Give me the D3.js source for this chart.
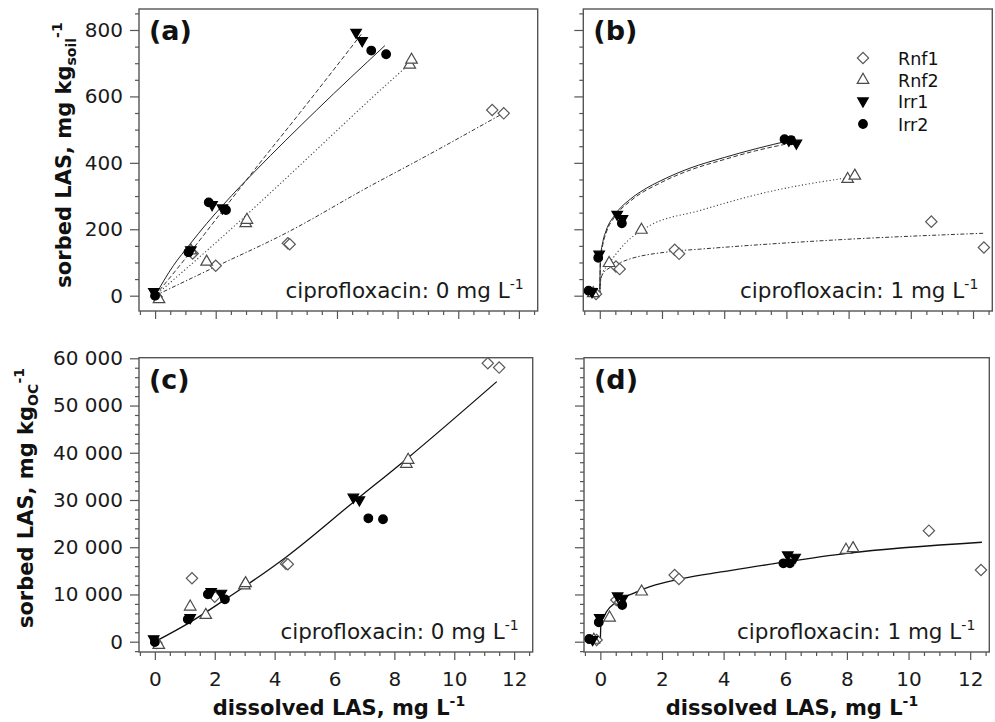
<!DOCTYPE html>
<html><head><meta charset="utf-8">
<script src="https://cdn.jsdelivr.net/npm/d3@7"></script>
<style>
body{margin:0;background:#fff}
svg{display:block}
text{font-family:"DejaVu Sans",sans-serif}
</style></head>
<body><svg id="chart" width="995" height="722"></svg>
<script>
// ---------- tick values / labels ----------
const xTickValues = [0, 2, 4, 6, 8, 10, 12];
const xTickLabels = ["0", "2", "4", "6", "8", "10", "12"];
const ySoilTickValues = [0, 200, 400, 600, 800];
const ySoilTickLabels = ["0", "200", "400", "600", "800"];
const yOCTickValues = [0, 10000, 20000, 30000, 40000, 50000, 60000];
const yOCTickLabels = ["0", "10 000", "20 000", "30 000", "40 000", "50 000", "60 000"];

const seriesNames = ["Rnf1", "Rnf2", "Irr1", "Irr2"];

// ---------- panel (a): ciprofloxacin 0, mg/kg soil ----------
const aRnf1 = [[0.05,-3],[1.24,127],[2.0,90],[4.38,158],[4.44,155],[11.12,559],[11.5,549]];
const aRnf2 = [[0.13,-11],[1.18,136],[1.7,102],[2.99,218],[3.03,228],[8.4,695],[8.46,710]];
const aIrr1 = [[-0.04,12],[1.18,138],[1.88,274],[2.22,264],[6.63,793],[6.83,768]];
const aIrr2 = [[0,0],[1.1,131],[1.77,281],[2.34,258],[7.13,738],[7.62,727]];
const aFitRnf1 = [[0,0],[1.92,84],[4.35,190],[7.09,330],[8.73,410],[11.5,550]];
const aFitRnf2 = [[0,0],[2.8,225],[4.02,328],[8.3,690],[8.45,702]];
const aFitIrr1 = [[0,0],[1.0,112],[2.0,229],[3.13,362],[4.78,551],[6.8,787]];
const aFitIrr2 = [[0,0],[0.6,90],[1.15,155],[1.7,217],[2.25,274],[2.8,328],[3.3,375],[5.33,559],[7.58,753]];

// ---------- panel (b): ciprofloxacin 1, mg/kg soil ----------
const bRnf1 = [[-0.12,5],[0.52,88],[0.64,80],[2.41,138],[2.55,126],[10.66,223],[12.35,145]];
const bRnf2 = [[-0.21,7],[0.3,98],[1.34,198],[7.97,351],[8.2,361]];
const bIrr1 = [[-0.25,12],[-0.02,125],[0.56,245],[0.73,232],[6.08,468],[6.32,459]];
const bIrr2 = [[-0.36,15],[-0.05,114],[0.71,218],[5.94,471],[6.15,468]];
const bFitRnf1 = [[0,0],[0.02,45],[0.1,66],[0.3,83],[0.72,102],[2.29,133],[3.2,140],[7.6,168],[12.35,188]];
const bFitRnf2 = [[0,0],[0.02,38],[0.1,70],[0.26,92],[0.82,158],[1.55,208],[3.2,256],[5.3,310],[7.9,354],[8.2,358]];
const bFitIrr1 = [[0,0],[0.02,100],[0.1,155],[0.2,188],[0.5,240],[1.0,286],[2.0,342],[2.9,378],[4.0,410],[5.0,436],[6.3,462]];
const bFitIrr2 = [[0,0],[0.02,110],[0.1,163],[0.2,195],[0.5,245],[1.0,292],[1.4,318],[2.0,348],[2.9,384],[4.0,416],[5.0,442],[6.15,468]];

// ---------- panel (c): ciprofloxacin 0, mg/kg OC ----------
const cRnf1 = [[0.05,-300],[1.24,13420],[2.0,9530],[4.38,16520],[4.44,16400],[11.12,58960],[11.5,58030]];
const cRnf2 = [[0.13,-700],[1.18,7410],[1.7,5650],[2.99,11900],[3.03,12370],[8.4,37630],[8.46,38480]];
const cIrr1 = [[-0.04,600],[1.18,5100],[1.88,10590],[2.22,10250],[6.63,30580],[6.83,30010]];
const cIrr2 = [[0,-60],[1.1,4740],[1.77,10030],[2.34,8970],[7.13,26130],[7.62,25920]];
const cFit = [[0,0],[1.17,4100],[2.34,8900],[3.07,12000],[4.4,18000],[6.66,29700],[8.41,38700],[11.42,55060]];

// ---------- panel (d): ciprofloxacin 1, mg/kg OC ----------
const dRnf1 = [[-0.12,360],[0.52,8830],[0.64,8400],[2.41,14120],[2.55,13280],[10.66,23510],[12.35,15180]];
const dRnf2 = [[-0.21,380],[0.3,5080],[1.34,10590],[7.97,19420],[8.2,19780]];
const dIrr1 = [[-0.25,460],[-0.02,5080],[0.56,9680],[0.73,9190],[6.08,18360],[6.32,17870]];
const dIrr2 = [[-0.36,570],[-0.05,4100],[0.71,7770],[5.94,16600],[6.15,16600]];
const dFit = [[0,0],[0.02,3900],[0.1,5100],[0.2,6350],[0.53,8500],[1.07,10250],[1.61,11650],[2.69,13420],[3.99,14820],[6.05,16940],[8.0,18700],[12.38,21050]];

// ---------- styling ----------
const markerStyle = {
  Rnf1: {shape: "diamond", fill: "#fff", stroke: "#5a5a5a"},
  Rnf2: {shape: "up", fill: "#fff", stroke: "#4a4a4a"},
  Irr1: {shape: "down", fill: "#000", stroke: "#000"},
  Irr2: {shape: "circle", fill: "#000", stroke: "#000"}
};
const lineStyle = {
  Rnf1: {dash: "4,2,1.4,2", stroke: "#333", width: 1},
  Rnf2: {dash: "1.2,2.3", stroke: "#444", width: 1.1},
  Irr1: {dash: "4.5,2.5", stroke: "#333", width: 1},
  Irr2: {dash: null, stroke: "#222", width: 1},
  single: {dash: null, stroke: "#111", width: 1.3}
};

const svg = d3.select("#chart");
svg.append("rect").attr("width", 995).attr("height", 722).attr("fill", "#fff");

function symbolPath(shape) {
  if (shape === "diamond") return d3.symbol(d3.symbolSquare, 64)();
  if (shape === "up") return d3.symbol(d3.symbolTriangle, 58)();
  if (shape === "down") return d3.symbol(d3.symbolTriangle, 48)();
  return d3.symbol(d3.symbolCircle, 58)();
}
function symbolRot(shape) {
  if (shape === "diamond") return 45;
  if (shape === "down") return 180;
  return 0;
}

const xDomain = [-0.53, 12.62];
const soilDomain = [-46.1, 863.2];
const ocDomain = [-2181, 60127];

const panels = [
  {label: "(a)", box: [139, 537.7, 9, 311], yDomain: soilDomain, yTicks: ySoilTickValues, yLabels: ySoilTickLabels,
   yMinor: d3.range(0, 851, 50), showY: true, showX: false, cipro: "0",
   series: {Rnf1: aRnf1, Rnf2: aRnf2, Irr1: aIrr1, Irr2: aIrr2},
   fits: [["Rnf1", aFitRnf1], ["Rnf2", aFitRnf2], ["Irr1", aFitIrr1], ["Irr2", aFitIrr2]]},
  {label: "(b)", box: [583.3, 992.3, 9, 311], yDomain: soilDomain, yTicks: ySoilTickValues, yLabels: ySoilTickLabels,
   yMinor: d3.range(0, 851, 50), showY: false, showX: false, cipro: "1",
   series: {Rnf1: bRnf1, Rnf2: bRnf2, Irr1: bIrr1, Irr2: bIrr2},
   fits: [["Rnf1", bFitRnf1], ["Rnf2", bFitRnf2], ["Irr1", bFitIrr1], ["Irr2", bFitIrr2]], legend: true},
  {label: "(c)", box: [139, 532.7, 357.7, 652], yDomain: ocDomain, yTicks: yOCTickValues, yLabels: yOCTickLabels,
   yMinor: d3.range(-2000, 60001, 2000), showY: true, showX: true, cipro: "0",
   series: {Rnf1: cRnf1, Rnf2: cRnf2, Irr1: cIrr1, Irr2: cIrr2},
   fits: [["single", cFit]]},
  {label: "(d)", box: [584, 989.3, 357.7, 652], yDomain: ocDomain, yTicks: yOCTickValues, yLabels: yOCTickLabels,
   yMinor: d3.range(-2000, 60001, 2000), showY: false, showX: true, cipro: "1",
   series: {Rnf1: dRnf1, Rnf2: dRnf2, Irr1: dIrr1, Irr2: dIrr2},
   fits: [["single", dFit]]}
];

const axisColor = "#555";
const tickFont = 20;

panels.forEach(p => {
  const [L, R, T, B] = p.box;
  const x = d3.scaleLinear().domain(xDomain).range([L, R]);
  const y = d3.scaleLinear().domain(p.yDomain).range([B, T]);
  const g = svg.append("g");

  const cid = "clip" + p.label.replace(/[()]/g, "");
  svg.append("clipPath").attr("id", cid).append("rect")
    .attr("x", L).attr("y", T).attr("width", R - L).attr("height", B - T);

  const yMaj = g.append("g").attr("transform", `translate(${L},0)`)
    .call(d3.axisLeft(y).tickValues(p.yTicks).tickSize(9).tickPadding(7)
      .tickFormat((d, i) => p.showY ? p.yLabels[i] : ""));
  const yMin = g.append("g").attr("transform", `translate(${L},0)`)
    .call(d3.axisLeft(y).tickValues(p.yMinor.filter(v => !p.yTicks.includes(v))).tickSize(4).tickFormat(""));
  const xMaj = g.append("g").attr("transform", `translate(0,${B})`)
    .call(d3.axisBottom(x).tickValues(xTickValues).tickSize(8).tickPadding(12)
      .tickFormat((d, i) => p.showX ? xTickLabels[i] : ""));
  const xMin = g.append("g").attr("transform", `translate(0,${B})`)
    .call(d3.axisBottom(x).tickValues(d3.range(-0.5, 12.51, 0.5).filter(v => !xTickValues.includes(v))).tickSize(4).tickFormat(""));
  [yMaj, yMin, xMaj, xMin].forEach(a => {
    a.select(".domain").remove();
    a.selectAll("line").attr("stroke", axisColor).attr("stroke-width", 1.2);
    a.selectAll("text").attr("font-size", tickFont).attr("fill", "#1a1a1a")
      .attr("font-family", "DejaVu Sans");
  });

  g.append("rect").attr("x", L).attr("y", T).attr("width", R - L).attr("height", B - T)
    .attr("fill", "none").attr("stroke", axisColor).attr("stroke-width", 1.4);

  const line = d3.line().x(d => x(d[0])).y(d => y(d[1])).curve(d3.curveMonotoneX);
  const lg = g.append("g").attr("clip-path", `url(#${cid})`);
  p.fits.forEach(([name, pts]) => {
    const st = lineStyle[name];
    lg.append("path").attr("d", line(pts)).attr("fill", "none")
      .attr("stroke", st.stroke).attr("stroke-width", st.width)
      .attr("stroke-dasharray", st.dash);
  });

  const mg = g.append("g").attr("clip-path", `url(#${cid})`);
  seriesNames.forEach(name => {
    const ms = markerStyle[name];
    mg.selectAll(null).data(p.series[name]).join("path")
      .attr("d", symbolPath(ms.shape))
      .attr("transform", d => `translate(${x(d[0])},${y(d[1])}) rotate(${symbolRot(ms.shape)})`)
      .attr("fill", ms.fill).attr("stroke", ms.stroke).attr("stroke-width", 1.2);
  });

  g.append("text").attr("x", L + 10).attr("y", T + 31).attr("font-size", 27)
    .attr("font-weight", "bold").attr("fill", "#111").text(p.label);

  const ct = g.append("text").attr("x", R - 14).attr("y", B - 13.5).attr("text-anchor", "end")
    .attr("font-size", 21.5).attr("fill", "#1a1a1a");
  ct.append("tspan").text(`ciprofloxacin: ${p.cipro} mg L`);
  ct.append("tspan").attr("font-size", 14).attr("dy", -8.5).text("-1");

  if (p.legend) {
    const rows = [58, 80, 101, 124];
    seriesNames.forEach((name, i) => {
      const ms = markerStyle[name];
      g.append("path").attr("d", symbolPath(ms.shape))
        .attr("transform", `translate(863,${rows[i]}) rotate(${symbolRot(ms.shape)})`)
        .attr("fill", ms.fill).attr("stroke", ms.stroke).attr("stroke-width", 1.2);
      g.append("text").attr("x", 898).attr("y", rows[i] + 6.5).attr("font-size", 17.5)
        .attr("fill", "#111").text(name);
    });
  }
});

function yTitle(cx, cy, sub) {
  const t = svg.append("text").attr("transform", `translate(${cx},${cy}) rotate(-90)`)
    .attr("text-anchor", "middle").attr("font-size", 21).attr("font-weight", "bold").attr("fill", "#111");
  t.append("tspan").text("sorbed LAS, mg kg");
  t.append("tspan").attr("font-size", 14).attr("dy", 5).text(sub);
  t.append("tspan").attr("font-size", 14).attr("dy", -14).text("-1");
}
yTitle(71, 155, "soil");
yTitle(33, 498, "OC");

function xTitle(cx, cy) {
  const t = svg.append("text").attr("x", cx).attr("y", cy).attr("text-anchor", "middle")
    .attr("font-size", 21).attr("font-weight", "bold").attr("fill", "#111");
  t.append("tspan").text("dissolved LAS, mg L");
  t.append("tspan").attr("font-size", 14).attr("dy", -9).text("-1");
}
xTitle(339, 715);
xTitle(792, 715);
</script>
</body></html>
